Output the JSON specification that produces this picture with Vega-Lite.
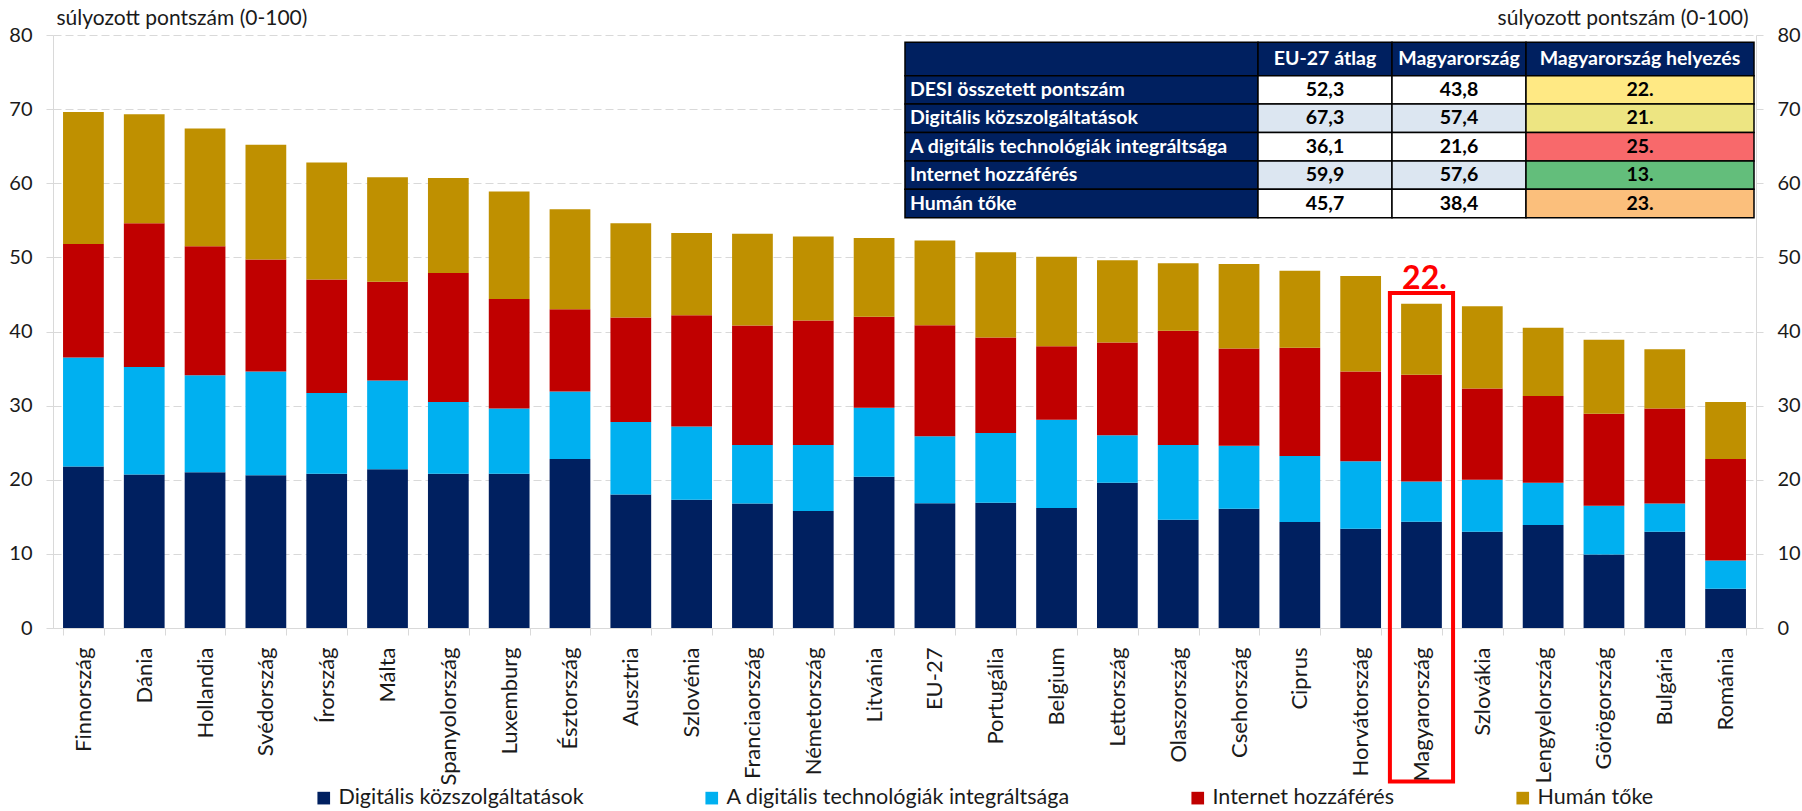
{
  "$schema": "https://vega.github.io/schema/vega-lite/v6.json",
  "autosize": {"type": "none"},
  "width": 1703,
  "height": 593,
  "padding": {"left": 53, "top": 35, "right": 46, "bottom": 183},
  "background": "white",
  "config": {
    "font": "Lato",
    "view": {"stroke": null},
    "axis": {
      "labelFont": "Lato",
      "titleFont": "Lato",
      "labelColor": "#1a1a1a",
      "titleColor": "#1a1a1a",
      "domainColor": "#d9d9d9",
      "tickColor": "#d9d9d9",
      "labelFontSize": 21,
      "titleFontSize": 21,
      "titleFontWeight": "normal"
    }
  },
  "datasets": {
    "orszagok": [
      {"country": "Finnország", "Digitális közszolgáltatások": 21.8, "A digitális technológiák integráltsága": 14.7, "Internet hozzáférés": 15.3, "Humán tőke": 17.8},
      {"country": "Dánia", "Digitális közszolgáltatások": 20.7, "A digitális technológiák integráltsága": 14.5, "Internet hozzáférés": 19.4, "Humán tőke": 14.7},
      {"country": "Hollandia", "Digitális közszolgáltatások": 21.0, "A digitális technológiák integráltsága": 13.1, "Internet hozzáférés": 17.4, "Humán tőke": 15.9},
      {"country": "Svédország", "Digitális közszolgáltatások": 20.6, "A digitális technológiák integráltsága": 14.0, "Internet hozzáférés": 15.1, "Humán tőke": 15.5},
      {"country": "Írország", "Digitális közszolgáltatások": 20.8, "A digitális technológiák integráltsága": 10.9, "Internet hozzáférés": 15.3, "Humán tőke": 15.8},
      {"country": "Málta", "Digitális közszolgáltatások": 21.4, "A digitális technológiák integráltsága": 12.0, "Internet hozzáférés": 13.3, "Humán tőke": 14.1},
      {"country": "Spanyolország", "Digitális közszolgáltatások": 20.8, "A digitális technológiák integráltsága": 9.7, "Internet hozzáférés": 17.4, "Humán tőke": 12.8},
      {"country": "Luxemburg", "Digitális közszolgáltatások": 20.8, "A digitális technológiák integráltsága": 8.8, "Internet hozzáférés": 14.8, "Humán tőke": 14.5},
      {"country": "Észtország", "Digitális közszolgáltatások": 22.8, "A digitális technológiák integráltsága": 9.1, "Internet hozzáférés": 11.1, "Humán tőke": 13.5},
      {"country": "Ausztria", "Digitális közszolgáltatások": 18.0, "A digitális technológiák integráltsága": 9.8, "Internet hozzáférés": 14.1, "Humán tőke": 12.7},
      {"country": "Szlovénia", "Digitális közszolgáltatások": 17.3, "A digitális technológiák integráltsága": 9.9, "Internet hozzáférés": 15.0, "Humán tőke": 11.1},
      {"country": "Franciaország", "Digitális közszolgáltatások": 16.8, "A digitális technológiák integráltsága": 7.9, "Internet hozzáférés": 16.1, "Humán tőke": 12.4},
      {"country": "Németország", "Digitális közszolgáltatások": 15.8, "A digitális technológiák integráltsága": 8.9, "Internet hozzáférés": 16.8, "Humán tőke": 11.3},
      {"country": "Litvánia", "Digitális közszolgáltatások": 20.4, "A digitális technológiák integráltsága": 9.3, "Internet hozzáférés": 12.3, "Humán tőke": 10.6},
      {"country": "EU-27", "Digitális közszolgáltatások": 16.83, "A digitális technológiák integráltsága": 9.03, "Internet hozzáférés": 14.98, "Humán tőke": 11.43},
      {"country": "Portugália", "Digitális közszolgáltatások": 16.9, "A digitális technológiák integráltsága": 9.4, "Internet hozzáférés": 12.9, "Humán tőke": 11.5},
      {"country": "Belgium", "Digitális közszolgáltatások": 16.2, "A digitális technológiák integráltsága": 11.9, "Internet hozzáférés": 9.9, "Humán tőke": 12.1},
      {"country": "Lettország", "Digitális közszolgáltatások": 19.6, "A digitális technológiák integráltsága": 6.4, "Internet hozzáférés": 12.5, "Humán tőke": 11.1},
      {"country": "Olaszország", "Digitális közszolgáltatások": 14.6, "A digitális technológiák integráltsága": 10.1, "Internet hozzáférés": 15.4, "Humán tőke": 9.1},
      {"country": "Csehország", "Digitális közszolgáltatások": 16.1, "A digitális technológiák integráltsága": 8.5, "Internet hozzáférés": 13.1, "Humán tőke": 11.4},
      {"country": "Ciprus", "Digitális közszolgáltatások": 14.3, "A digitális technológiák integráltsága": 8.9, "Internet hozzáférés": 14.6, "Humán tőke": 10.4},
      {"country": "Horvátország", "Digitális közszolgáltatások": 13.4, "A digitális technológiák integráltsága": 9.1, "Internet hozzáférés": 12.1, "Humán tőke": 12.9},
      {"country": "Magyarország", "Digitális közszolgáltatások": 14.35, "A digitális technológiák integráltsága": 5.4, "Internet hozzáférés": 14.4, "Humán tőke": 9.6},
      {"country": "Szlovákia", "Digitális közszolgáltatások": 13.0, "A digitális technológiák integráltsága": 7.0, "Internet hozzáférés": 12.3, "Humán tőke": 11.1},
      {"country": "Lengyelország", "Digitális közszolgáltatások": 13.9, "A digitális technológiák integráltsága": 5.7, "Internet hozzáférés": 11.7, "Humán tőke": 9.2},
      {"country": "Görögország", "Digitális közszolgáltatások": 9.9, "A digitális technológiák integráltsága": 6.6, "Internet hozzáférés": 12.4, "Humán tőke": 10.0},
      {"country": "Bulgária", "Digitális közszolgáltatások": 13.0, "A digitális technológiák integráltsága": 3.8, "Internet hozzáférés": 12.8, "Humán tőke": 8.0},
      {"country": "Románia", "Digitális közszolgáltatások": 5.3, "A digitális technológiák integráltsága": 3.8, "Internet hozzáférés": 13.7, "Humán tőke": 7.7}
    ],
    "komponensek": [
      {"comp": "Digitális közszolgáltatások", "sorrend": 1},
      {"comp": "A digitális technológiák integráltsága", "sorrend": 2},
      {"comp": "Internet hozzáférés", "sorrend": 3},
      {"comp": "Humán tőke", "sorrend": 4}
    ],
    "kiemeles": [
      {"country": "Magyarország", "top": 45.2, "bottom": -20.7, "label": "22."}
    ],
    "tabla": [
      {"row": "fejléc", "col": "label", "txt": ""},
      {"row": "fejléc", "col": "EU-27 átlag", "txt": "EU-27 átlag"},
      {"row": "fejléc", "col": "Magyarország", "txt": "Magyarország"},
      {"row": "fejléc", "col": "Magyarország helyezés", "txt": "Magyarország helyezés"},
      {"row": "DESI összetett pontszám", "col": "label", "txt": "DESI összetett pontszám"},
      {"row": "DESI összetett pontszám", "col": "EU-27 átlag", "txt": "52,3"},
      {"row": "DESI összetett pontszám", "col": "Magyarország", "txt": "43,8"},
      {"row": "DESI összetett pontszám", "col": "Magyarország helyezés", "txt": "22."},
      {"row": "Digitális közszolgáltatások", "col": "label", "txt": "Digitális közszolgáltatások"},
      {"row": "Digitális közszolgáltatások", "col": "EU-27 átlag", "txt": "67,3"},
      {"row": "Digitális közszolgáltatások", "col": "Magyarország", "txt": "57,4"},
      {"row": "Digitális közszolgáltatások", "col": "Magyarország helyezés", "txt": "21."},
      {"row": "A digitális technológiák integráltsága", "col": "label", "txt": "A digitális technológiák integráltsága"},
      {"row": "A digitális technológiák integráltsága", "col": "EU-27 átlag", "txt": "36,1"},
      {"row": "A digitális technológiák integráltsága", "col": "Magyarország", "txt": "21,6"},
      {"row": "A digitális technológiák integráltsága", "col": "Magyarország helyezés", "txt": "25."},
      {"row": "Internet hozzáférés", "col": "label", "txt": "Internet hozzáférés"},
      {"row": "Internet hozzáférés", "col": "EU-27 átlag", "txt": "59,9"},
      {"row": "Internet hozzáférés", "col": "Magyarország", "txt": "57,6"},
      {"row": "Internet hozzáférés", "col": "Magyarország helyezés", "txt": "13."},
      {"row": "Humán tőke", "col": "label", "txt": "Humán tőke"},
      {"row": "Humán tőke", "col": "EU-27 átlag", "txt": "45,7"},
      {"row": "Humán tőke", "col": "Magyarország", "txt": "38,4"},
      {"row": "Humán tőke", "col": "Magyarország helyezés", "txt": "23."}
    ]
  },
  "layer": [
    {
      "encoding": {
        "x": {
          "field": "country", "type": "nominal",
          "scale": {"type": "band", "paddingInner": 0.33, "paddingOuter": 0.165,
            "domain": ["Finnország", "Dánia", "Hollandia", "Svédország", "Írország", "Málta", "Spanyolország", "Luxemburg", "Észtország", "Ausztria", "Szlovénia", "Franciaország", "Németország", "Litvánia", "EU-27", "Portugália", "Belgium", "Lettország", "Olaszország", "Csehország", "Ciprus", "Horvátország", "Magyarország", "Szlovákia", "Lengyelország", "Görögország", "Bulgária", "Románia"]},
          "axis": {"orient": "bottom", "title": null, "labelAngle": -90, "labelAlign": "right", "labelBaseline": "middle", "tickBand": "extent", "tickSize": 7, "labelPadding": 12, "labelLimit": 300, "labelOverlap": false, "domainColor": "#d9d9d9", "labelFontSize": 22}
        }
      },
      "layer": [
        {
          "data": {"name": "orszagok"},
          "transform": [
            {"fold": ["Digitális közszolgáltatások", "A digitális technológiák integráltsága", "Internet hozzáférés", "Humán tőke"], "as": ["comp", "v"]},
            {"lookup": "comp", "from": {"data": {"name": "komponensek"}, "key": "comp", "fields": ["sorrend"]}}
          ],
          "mark": {"type": "bar"},
          "encoding": {
            "y": {
              "field": "v", "type": "quantitative", "stack": "zero",
              "scale": {"domain": [0, 80], "nice": false, "zero": true},
              "axis": {
                "title": "súlyozott pontszám (0-100)", "titleAngle": 0, "titleAlign": "left", "titleBaseline": "middle",
                "titleX": 3, "titleY": -17,
                "values": [0, 10, 20, 30, 40, 50, 60, 70, 80],
                "grid": true, "gridDash": [8, 4], "gridColor": "#d9d9d9",
                "tickSize": 7, "labelPadding": 14, "labelFontSize": 20
              }
            },
            "color": {
              "field": "comp", "type": "nominal",
              "scale": {
                "domain": ["Digitális közszolgáltatások", "A digitális technológiák integráltsága", "Internet hozzáférés", "Humán tőke"],
                "range": ["#002060", "#00b0f0", "#c00000", "#bf9000"]
              },
              "legend": {
                "title": null, "orient": "none", "legendX": 260, "legendY": 752, "direction": "horizontal",
                "symbolType": "square", "symbolSize": 160, "symbolStrokeWidth": 0,
                "labelFontSize": 21.5, "labelFont": "Lato", "labelColor": "#1a1a1a", "labelOffset": 4, "labelLimit": 500,
                "columnPadding": 117, "padding": 0
              }
            },
            "order": {"field": "sorrend", "type": "quantitative", "sort": "ascending"}
          }
        },
        {
          "data": {"name": "orszagok"},
          "mark": {"type": "bar", "opacity": 0},
          "encoding": {
            "y": {
              "field": "Humán tőke", "type": "quantitative",
              "axis": {
                "orient": "right", "title": "súlyozott pontszám (0-100)", "titleAngle": 0, "titleAlign": "right", "titleBaseline": "middle",
                "titleX": -8, "titleY": -17,
                "values": [0, 10, 20, 30, 40, 50, 60, 70, 80],
                "grid": false, "tickSize": 7, "labelPadding": 14, "labelFontSize": 20
              }
            }
          }
        },
        {
          "data": {"name": "kiemeles"},
          "mark": {"type": "bar", "fillOpacity": 0, "stroke": "#ff0000", "strokeWidth": 4, "width": {"band": 1.55}, "clip": false},
          "encoding": {
            "y": {"field": "top", "type": "quantitative", "axis": null},
            "y2": {"field": "bottom"}
          }
        },
        {
          "data": {"name": "kiemeles"},
          "mark": {"type": "text", "color": "#ff0000", "fontSize": 32, "fontWeight": "bold", "baseline": "alphabetic", "dy": -4, "dx": 3},
          "encoding": {
            "y": {"field": "top", "type": "quantitative", "axis": null},
            "text": {"field": "label"}
          }
        }
      ],
      "resolve": {"axis": {"y": "independent"}}
    },
    {
      "data": {"name": "tabla"},
      "transform": [{"filter": {"and": [{"field": "row", "equal": "fejléc"}, {"field": "col", "equal": "label"}]}}],
      "mark": {"type": "rect", "color": "#002060", "stroke": "#000000", "strokeWidth": 1.5},
      "encoding": {
        "x": {"field": "col", "type": "nominal", "scale": {"type": "band", "domain": ["label"], "range": [852, 1205], "paddingInner": 0, "paddingOuter": 0}, "axis": null},
        "y": {"field": "row", "type": "nominal", "scale": {"type": "band", "domain": ["fejléc"], "range": [7.3, 40.7], "paddingInner": 0, "paddingOuter": 0}, "axis": null}
      }
    },
    {
      "data": {"name": "tabla"},
      "transform": [{"filter": {"and": [{"field": "row", "equal": "fejléc"}, {"field": "col", "oneOf": ["EU-27 átlag", "Magyarország"]}]}}],
      "encoding": {
        "x": {"field": "col", "type": "nominal", "scale": {"type": "band", "domain": ["EU-27 átlag", "Magyarország"], "range": [1205, 1473], "paddingInner": 0, "paddingOuter": 0}, "axis": null},
        "y": {"field": "row", "type": "nominal", "scale": {"type": "band", "domain": ["fejléc"], "range": [7.3, 40.7], "paddingInner": 0, "paddingOuter": 0}, "axis": null}
      },
      "layer": [
        {"mark": {"type": "rect", "color": "#002060", "stroke": "#000000", "strokeWidth": 1.5}},
        {"mark": {"type": "text", "color": "#ffffff", "fontSize": 19.5, "fontWeight": "bold", "font": "Lato"}, "encoding": {"text": {"field": "txt"}}}
      ]
    },
    {
      "data": {"name": "tabla"},
      "transform": [{"filter": {"and": [{"field": "row", "equal": "fejléc"}, {"field": "col", "equal": "Magyarország helyezés"}]}}],
      "encoding": {
        "x": {"field": "col", "type": "nominal", "scale": {"type": "band", "domain": ["Magyarország helyezés"], "range": [1473, 1701], "paddingInner": 0, "paddingOuter": 0}, "axis": null},
        "y": {"field": "row", "type": "nominal", "scale": {"type": "band", "domain": ["fejléc"], "range": [7.3, 40.7], "paddingInner": 0, "paddingOuter": 0}, "axis": null}
      },
      "layer": [
        {"mark": {"type": "rect", "color": "#002060", "stroke": "#000000", "strokeWidth": 1.5}},
        {"mark": {"type": "text", "color": "#ffffff", "fontSize": 19.5, "fontWeight": "bold", "font": "Lato"}, "encoding": {"text": {"field": "txt"}}}
      ]
    },
    {
      "data": {"name": "tabla"},
      "transform": [{"filter": {"and": [{"field": "row", "oneOf": ["DESI összetett pontszám", "Digitális közszolgáltatások", "A digitális technológiák integráltsága", "Internet hozzáférés", "Humán tőke"]}, {"field": "col", "equal": "label"}]}}],
      "encoding": {
        "x": {"field": "col", "type": "nominal", "scale": {"type": "band", "domain": ["label"], "range": [852, 1205], "paddingInner": 0, "paddingOuter": 0}, "axis": null},
        "y": {"field": "row", "type": "nominal", "scale": {"type": "band", "domain": ["DESI összetett pontszám", "Digitális közszolgáltatások", "A digitális technológiák integráltsága", "Internet hozzáférés", "Humán tőke"], "range": [40.7, 182.7], "paddingInner": 0, "paddingOuter": 0}, "axis": null}
      },
      "layer": [
        {"mark": {"type": "rect", "color": "#002060", "stroke": "#000000", "strokeWidth": 1.5}},
        {"mark": {"type": "text", "color": "#ffffff", "fontSize": 19.5, "fontWeight": "bold", "font": "Lato", "align": "left", "dx": 5},
         "encoding": {"x": {"field": "col", "type": "nominal", "bandPosition": 0, "axis": null}, "text": {"field": "txt"}}}
      ]
    },
    {
      "data": {"name": "tabla"},
      "transform": [{"filter": {"and": [{"field": "row", "oneOf": ["DESI összetett pontszám", "Digitális közszolgáltatások", "A digitális technológiák integráltsága", "Internet hozzáférés", "Humán tőke"]}, {"field": "col", "oneOf": ["EU-27 átlag", "Magyarország"]}]}}],
      "encoding": {
        "x": {"field": "col", "type": "nominal", "scale": {"type": "band", "domain": ["EU-27 átlag", "Magyarország"], "range": [1205, 1473], "paddingInner": 0, "paddingOuter": 0}, "axis": null},
        "y": {"field": "row", "type": "nominal", "scale": {"type": "band", "domain": ["DESI összetett pontszám", "Digitális közszolgáltatások", "A digitális technológiák integráltsága", "Internet hozzáférés", "Humán tőke"], "range": [40.7, 182.7], "paddingInner": 0, "paddingOuter": 0}, "axis": null}
      },
      "layer": [
        {"mark": {"type": "rect", "stroke": "#000000", "strokeWidth": 1.5, "opacity": 1},
         "encoding": {"color": {"field": "row", "type": "nominal", "scale": {"domain": ["DESI összetett pontszám", "Digitális közszolgáltatások", "A digitális technológiák integráltsága", "Internet hozzáférés", "Humán tőke"], "range": ["#ffffff", "#dce6f1", "#ffffff", "#dce6f1", "#ffffff"]}, "legend": null}}},
        {"mark": {"type": "text", "color": "#000000", "fontSize": 19.5, "fontWeight": "bold", "font": "Lato"}, "encoding": {"text": {"field": "txt"}}}
      ]
    },
    {
      "data": {"name": "tabla"},
      "transform": [{"filter": {"and": [{"field": "row", "oneOf": ["DESI összetett pontszám", "Digitális közszolgáltatások", "A digitális technológiák integráltsága", "Internet hozzáférés", "Humán tőke"]}, {"field": "col", "equal": "Magyarország helyezés"}]}}],
      "encoding": {
        "x": {"field": "col", "type": "nominal", "scale": {"type": "band", "domain": ["Magyarország helyezés"], "range": [1473, 1701], "paddingInner": 0, "paddingOuter": 0}, "axis": null},
        "y": {"field": "row", "type": "nominal", "scale": {"type": "band", "domain": ["DESI összetett pontszám", "Digitális közszolgáltatások", "A digitális technológiák integráltsága", "Internet hozzáférés", "Humán tőke"], "range": [40.7, 182.7], "paddingInner": 0, "paddingOuter": 0}, "axis": null}
      },
      "layer": [
        {"mark": {"type": "rect", "stroke": "#000000", "strokeWidth": 1.5, "opacity": 1},
         "encoding": {"color": {"field": "row", "type": "nominal", "scale": {"domain": ["DESI összetett pontszám", "Digitális közszolgáltatások", "A digitális technológiák integráltsága", "Internet hozzáférés", "Humán tőke"], "range": ["#ffe984", "#ede582", "#f8696b", "#63be7b", "#fbbf7c"]}, "legend": null}}},
        {"mark": {"type": "text", "color": "#000000", "fontSize": 19.5, "fontWeight": "bold", "font": "Lato"}, "encoding": {"text": {"field": "txt"}}}
      ]
    }
  ],
  "resolve": {"scale": {"x": "independent", "y": "independent", "color": "independent"}}
}
